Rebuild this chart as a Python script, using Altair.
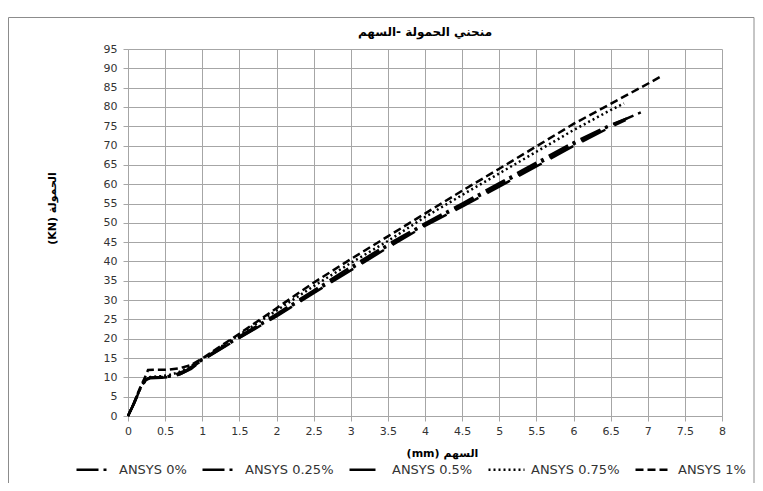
import altair as alt
import pandas as pd

series_names = ["ANSYS 0%", "ANSYS 0.25%", "ANSYS 0.5%", "ANSYS 0.75%", "ANSYS 1%"]

x_0 = [0, 0.08, 0.16, 0.24, 0.3, 0.45, 0.6, 0.72, 0.85, 1.0, 1.5, 2.0, 2.5, 3.0, 3.5, 4.0, 4.5, 5.0, 5.5, 6.0, 6.5, 6.93]
y_0 = [0, 3.2, 6.8, 9.4, 9.9, 10.0, 10.3, 11.0, 12.2, 14.5, 20.3, 26.0, 32.0, 38.0, 44.0, 49.5, 54.5, 59.8, 65.0, 70.3, 75.2, 78.8]

x_025 = [0, 0.08, 0.16, 0.24, 0.3, 0.45, 0.6, 0.7, 0.8, 1.0, 1.5, 2.0, 2.5, 3.0, 3.5, 4.0, 4.5, 5.0, 5.5, 6.0, 6.5, 6.72]
y_025 = [0, 3.3, 6.9, 9.5, 10.0, 10.1, 10.5, 11.2, 12.0, 14.7, 20.6, 26.4, 32.5, 38.6, 44.4, 49.9, 55.0, 60.3, 65.6, 70.8, 75.4, 77.0]

x_05 = [0, 0.08, 0.16, 0.24, 0.3, 0.45, 0.6, 0.7, 0.8, 1.0, 1.5, 2.0, 2.5, 3.0, 3.5, 4.0, 4.5, 5.0, 5.5, 6.0, 6.5, 6.7]
y_05 = [0, 3.2, 6.8, 9.3, 9.8, 9.9, 10.2, 10.8, 11.8, 14.4, 20.2, 25.8, 31.8, 37.7, 43.6, 49.2, 54.2, 59.4, 64.6, 69.9, 74.8, 76.6]

x_075 = [0, 0.08, 0.16, 0.24, 0.3, 0.45, 0.6, 0.7, 0.85, 1.0, 1.5, 2.0, 2.5, 3.0, 3.5, 4.0, 4.5, 5.0, 5.5, 6.0, 6.5, 6.68]
y_075 = [0, 3.3, 7.0, 9.6, 10.1, 10.3, 10.8, 11.5, 13.0, 14.8, 21.0, 27.3, 33.6, 39.6, 45.3, 51.5, 57.2, 62.8, 68.4, 74.0, 79.2, 80.9]

x_1 = [0, 0.08, 0.16, 0.24, 0.27, 0.4, 0.55, 0.7, 0.85, 1.0, 1.5, 2.0, 2.5, 3.0, 3.5, 4.0, 4.5, 5.0, 5.5, 6.0, 6.5, 7.0, 7.16]
y_1 = [0, 3.4, 7.2, 10.5, 11.9, 12.0, 12.0, 12.4, 13.2, 14.9, 21.3, 27.9, 34.5, 40.6, 46.5, 52.4, 58.3, 64.0, 69.8, 75.6, 80.8, 86.0, 87.7]

x_ticks = [i * 0.5 for i in range(17)]
y_ticks = list(range(0, 100, 5))

title_text = "منحني الحمولة -السهم"
x_title = "(mm) السهم"
y_title = "(KN) الحمولة"

rows = []
for name, xs, ys in zip(series_names, [x_0, x_025, x_05, x_075, x_1], [y_0, y_025, y_05, y_075, y_1]):
    for i, (xv, yv) in enumerate(zip(xs, ys)):
        rows.append({"series": name, "x": xv, "y": yv, "order": i})
df = pd.DataFrame(rows)

W, H = 594, 367
FONT = "DejaVu Sans"
GRID = "#a6a6a6"

dash_range = [[22, 5, 3, 6], [22, 5, 3, 6], [26, 10], [2, 3], [8, 4]]

lines = alt.Chart(df).mark_line(strokeWidth=2.5, color="black").encode(
    x=alt.X("x:Q", scale=alt.Scale(domain=[0, 8], nice=False, zero=False),
            axis=alt.Axis(values=x_ticks, format="~g", title=x_title,
                          titleX=314, titleY=37, titleBaseline="middle",
                          titleFont=FONT, titleFontSize=11, titleFontWeight="bold", titleColor="black",
                          labelFont=FONT, labelFontSize=11, labelColor="#333333", labelPadding=4,
                          tickSize=5, tickColor=GRID, domainColor=GRID, gridColor=GRID, gridWidth=1,
                          labelFlush=False)),
    y=alt.Y("y:Q", scale=alt.Scale(domain=[0, 95], nice=False),
            axis=alt.Axis(values=y_ticks, title=y_title,
                          titleX=-76, titleY=159, titleBaseline="middle", titleAngle=-90,
                          titleFont=FONT, titleFontSize=11, titleFontWeight="bold", titleColor="black",
                          labelFont=FONT, labelFontSize=11, labelColor="#333333", labelPadding=6,
                          tickSize=5, tickColor=GRID, domainColor=GRID, gridColor=GRID, gridWidth=1)),
    strokeDash=alt.StrokeDash("series:N",
                              scale=alt.Scale(domain=series_names, range=dash_range),
                              legend=alt.Legend(title=None, orient="none", direction="horizontal",
                                                legendX=-53, legendY=401,
                                                symbolType="stroke", symbolSize=1296,
                                                symbolStrokeColor="black", symbolStrokeWidth=2.5,
                                                labelFont=FONT, labelFontSize=13, labelColor="#333333",
                                                labelOffset=5, columnPadding=10, labelLimit=200)),
    order="order:Q",
)

one = pd.DataFrame({"a": [0]})

border = alt.Chart(one).mark_rect(
    fillOpacity=0, stroke="#8c8c8c", strokeWidth=1
).encode(
    x=alt.value(-119.5), x2=alt.value(W + 32), y=alt.value(-31.5), y2=alt.value(H + 100)
)

title = alt.Chart(one).mark_text(
    font=FONT, fontSize=12, fontWeight="bold", color="black", align="center", baseline="middle"
).encode(
    x=alt.value(W / 2), y=alt.value(-17), text=alt.value(title_text)
)

chart = alt.layer(border, lines, title).properties(
    width=W, height=H,
    autosize=alt.AutoSizeParams(type="none"),
    padding={"left": 120, "top": 41, "right": 33, "bottom": 67},
).configure_view(stroke=None)

chart.save("out.html", embed_options={"renderer": "svg", "actions": False})
